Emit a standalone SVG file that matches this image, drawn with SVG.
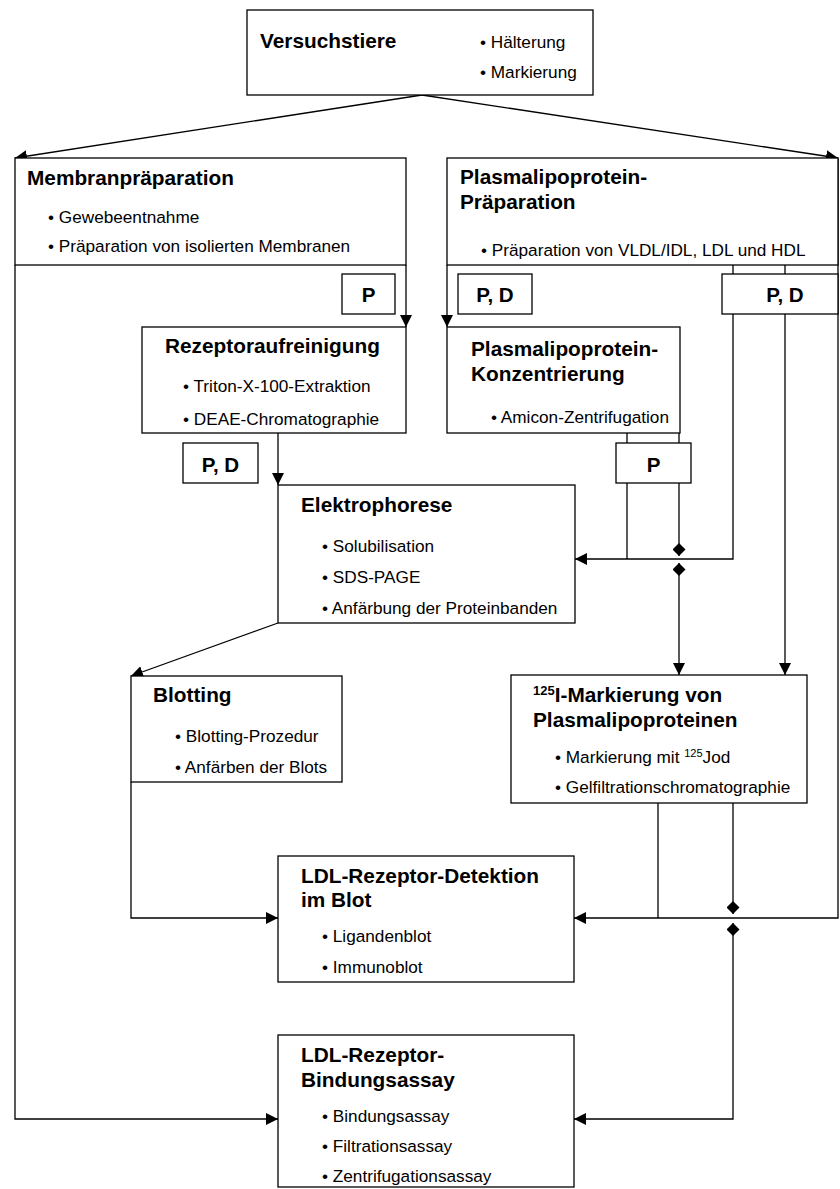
<svg xmlns="http://www.w3.org/2000/svg" width="840" height="1189" viewBox="0 0 840 1189">
<style>
  .box{fill:#fff;stroke:#000;stroke-width:1.3}
  .t{font-family:"Liberation Sans",Arial,sans-serif;font-weight:bold;font-size:20.8px;fill:#000}
  .b{font-family:"Liberation Sans",Arial,sans-serif;font-size:17.2px;fill:#000}
  .pd{font-family:"Liberation Sans",Arial,sans-serif;font-weight:bold;font-size:20.6px;fill:#000;text-anchor:middle}
  .c{fill:none;stroke:#000;stroke-width:1.3}
  .a{marker-end:url(#arr)}
</style>
<defs>
  <marker id="arr" viewBox="0 0 12 12" refX="12" refY="6" markerWidth="12" markerHeight="12" markerUnits="userSpaceOnUse" orient="auto">
    <path d="M0,0 L12,6 L0,12 z" fill="#000"/>
  </marker>
  <marker id="dia" viewBox="0 0 13 13" refX="13" refY="6.5" markerWidth="13" markerHeight="13" markerUnits="userSpaceOnUse" orient="auto-start-reverse">
    <path d="M0,6.5 L6.5,0 L13,6.5 L6.5,13 z" fill="#000"/>
  </marker>
</defs>
<rect width="840" height="1189" fill="#fff"/>

<g id="connectors">
  <path class="c a" d="M422,95 L15,158"/>
  <path class="c a" d="M422,95 L838,158"/>
  <path class="c a" d="M15,265 V1119 H278"/>
  <path class="c a" d="M406,265 V327"/>
  <path class="c a" d="M447,265 V327"/>
  <path class="c a" d="M278,433 V485"/>
  <path class="c" d="M627,433 V443 M679,433 V443"/>
  <path class="c" d="M627,483 V559"/>
  <path class="c" d="M679,483 V556" marker-end="url(#dia)"/>
  <path class="c a" d="M679,563 V675" marker-start="url(#dia)"/>
  <path class="c" d="M733,265 V274 M785,265 V274"/>
  <path class="c a" d="M733,314 V559 H575"/>
  <path class="c a" d="M785,314 V675"/>
  <path class="c a" d="M838,158 V918 H574"/>
  <path class="c a" d="M278,623 L131,676"/>
  <path class="c a" d="M131,782 V918 H278"/>
  <path class="c" d="M658,803 V918"/>
  <path class="c" d="M733,803 V914" marker-end="url(#dia)"/>
  <path class="c a" d="M733,923 V1119 H574" marker-start="url(#dia)"/>
</g>

<g id="versuchstiere">
  <rect class="box" x="247" y="10" width="346" height="85"/>
  <text class="t" x="260" y="48">Versuchstiere</text>
  <text class="b" x="480" y="48">• Hälterung</text>
  <text class="b" x="480" y="78">• Markierung</text>
</g>

<g id="membranpraeparation">
  <rect class="box" x="15" y="158" width="391" height="107"/>
  <text class="t" x="27" y="185">Membranpräparation</text>
  <text class="b" x="48" y="223">• Gewebeentnahme</text>
  <text class="b" x="48" y="252">• Präparation von isolierten Membranen</text>
</g>

<g id="plasmalipoprotein-praeparation">
  <rect class="box" x="447" y="158" width="391" height="107"/>
  <text class="t" x="460" y="184">Plasmalipoprotein-</text>
  <text class="t" x="460" y="209">Präparation</text>
  <text class="b" x="481" y="256">• Präparation von VLDL/IDL, LDL und HDL</text>
</g>

<g id="p1">
  <rect class="box" x="342" y="274" width="53" height="40"/>
  <text class="pd" x="368.5" y="302">P</text>
</g>

<g id="pd1">
  <rect class="box" x="458" y="274" width="74" height="40"/>
  <text class="pd" x="495" y="302">P, D</text>
</g>

<g id="pd2">
  <rect class="box" x="722" y="274" width="116" height="40"/>
  <text class="pd" x="785" y="302">P, D</text>
</g>

<g id="rezeptoraufreinigung">
  <rect class="box" x="142" y="327" width="264" height="106"/>
  <text class="t" x="165" y="353">Rezeptoraufreinigung</text>
  <text class="b" x="183" y="392">• Triton-X-100-Extraktion</text>
  <text class="b" x="183" y="425">• DEAE-Chromatographie</text>
</g>

<g id="konzentrierung">
  <rect class="box" x="447" y="327" width="233" height="106"/>
  <text class="t" x="471" y="356">Plasmalipoprotein-</text>
  <text class="t" x="471" y="381">Konzentrierung</text>
  <text class="b" x="491" y="423">• Amicon-Zentrifugation</text>
</g>

<g id="pd3">
  <rect class="box" x="183" y="443" width="75" height="40"/>
  <text class="pd" x="220.5" y="472">P, D</text>
</g>

<g id="p2">
  <rect class="box" x="616" y="443" width="75" height="40"/>
  <text class="pd" x="653.5" y="472">P</text>
</g>

<g id="elektrophorese">
  <rect class="box" x="278" y="485" width="297" height="138"/>
  <text class="t" x="301" y="512">Elektrophorese</text>
  <text class="b" x="322" y="552">• Solubilisation</text>
  <text class="b" x="322" y="583">• SDS-PAGE</text>
  <text class="b" x="322" y="614">• Anfärbung der Proteinbanden</text>
</g>

<g id="blotting">
  <rect class="box" x="131" y="676" width="211" height="106"/>
  <text class="t" x="153" y="702">Blotting</text>
  <text class="b" x="175" y="742">• Blotting-Prozedur</text>
  <text class="b" x="175" y="773">• Anfärben der Blots</text>
</g>

<g id="markierung">
  <rect class="box" x="511" y="675" width="296" height="128"/>
  <text class="t" x="533" y="702"><tspan font-size="13" dy="-7">125</tspan><tspan dy="7">I-Markierung von</tspan></text>
  <text class="t" x="533" y="727">Plasmalipoproteinen</text>
  <text class="b" x="555" y="763">• Markierung mit <tspan font-size="11" dy="-6">125</tspan><tspan dy="6">Jod</tspan></text>
  <text class="b" x="555" y="793">• Gelfiltrationschromatographie</text>
</g>

<g id="detektion">
  <rect class="box" x="278" y="856" width="296" height="126"/>
  <text class="t" x="301" y="883">LDL-Rezeptor-Detektion</text>
  <text class="t" x="301" y="907">im Blot</text>
  <text class="b" x="322" y="942">• Ligandenblot</text>
  <text class="b" x="322" y="973">• Immunoblot</text>
</g>

<g id="bindungsassay">
  <rect class="box" x="278" y="1035" width="296" height="152"/>
  <text class="t" x="301" y="1062">LDL-Rezeptor-</text>
  <text class="t" x="301" y="1087">Bindungsassay</text>
  <text class="b" x="322" y="1122">• Bindungsassay</text>
  <text class="b" x="322" y="1152">• Filtrationsassay</text>
  <text class="b" x="322" y="1182">• Zentrifugationsassay</text>
</g>
</svg>
